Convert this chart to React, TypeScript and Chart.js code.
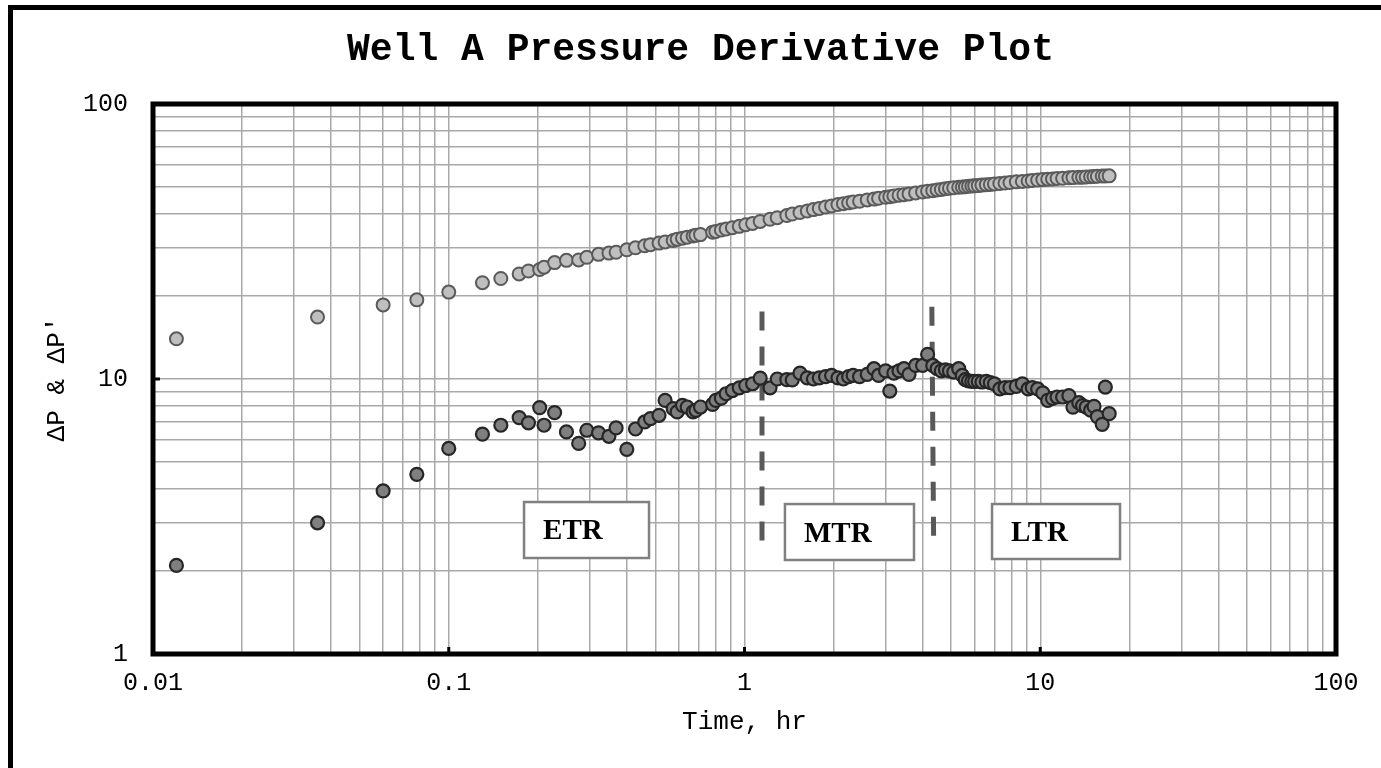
import React, { useEffect, useRef } from 'react';
import { Chart, registerables } from 'chart.js';

Chart.register(...registerables);

// ---- Data ----
const timeHr = [
  0.012, 0.036, 0.06, 0.078, 0.1, 0.13, 0.15, 0.173, 0.186, 0.203,
  0.21, 0.228, 0.25, 0.275, 0.293, 0.321, 0.348, 0.368, 0.4, 0.428,
  0.46, 0.481, 0.514, 0.539, 0.574, 0.592, 0.617, 0.64, 0.67, 0.685,
  0.71, 0.78, 0.8, 0.835, 0.867, 0.91, 0.96, 1.01, 1.065, 1.13,
  1.22, 1.29, 1.39, 1.45, 1.54, 1.63, 1.71, 1.79, 1.88, 1.97,
  2.07, 2.16, 2.25, 2.33, 2.45, 2.6, 2.74, 2.84, 3.0, 3.1,
  3.2, 3.33, 3.46, 3.6, 3.79, 4.0, 4.16, 4.33, 4.48, 4.63,
  4.78, 4.93, 5.1, 5.3, 5.45, 5.58, 5.72, 5.87, 6.0, 6.17,
  6.35, 6.57, 6.78, 7.0, 7.3, 7.6, 7.9, 8.3, 8.7, 9.1,
  9.4, 9.8, 10.2, 10.6, 11.0, 11.4, 11.9, 12.5, 12.9, 13.5,
  13.9, 14.3, 14.8, 15.2, 15.6, 16.2, 16.6, 17.1,
];

const deltaP = [
  14.0, 16.8, 18.6, 19.4, 20.7, 22.4, 23.2, 24.1, 24.7, 25.0,
  25.5, 26.5, 27.0, 27.1, 27.7, 28.4, 28.7, 28.9, 29.5, 30.0,
  30.5, 30.8, 31.2, 31.5, 31.9, 32.2, 32.5, 32.8, 33.1, 33.3,
  33.5, 34.2, 34.4, 34.8, 35.1, 35.5, 35.9, 36.4, 36.8, 37.4,
  38.1, 38.6, 39.3, 39.8, 40.3, 40.8, 41.3, 41.7, 42.2, 42.6,
  43.1, 43.4, 43.7, 44.0, 44.3, 44.8, 45.1, 45.4, 45.8, 46.0,
  46.3, 46.6, 46.8, 47.1, 47.5, 47.9, 48.2, 48.4, 48.7, 48.9,
  49.2, 49.4, 49.6, 49.8, 49.9, 50.0, 50.2, 50.3, 50.4, 50.5,
  50.7, 50.9, 51.0, 51.2, 51.4, 51.6, 51.8, 52.1, 52.3, 52.5,
  52.7, 52.9, 53.1, 53.3, 53.4, 53.6, 53.7, 53.9, 54.0, 54.1,
  54.2, 54.3, 54.4, 54.5, 54.6, 54.7, 54.7, 54.8,
];

const deltaPDerivative = [
  2.1, 3.0, 3.92, 4.5, 5.59, 6.3, 6.79, 7.24, 6.93, 7.87,
  6.79, 7.55, 6.42, 5.83, 6.51, 6.37, 6.19, 6.64, 5.55, 6.58,
  6.98, 7.18, 7.38, 8.36, 7.8, 7.59, 8.02, 7.91, 7.59, 7.69,
  7.91, 8.09, 8.36, 8.52, 8.84, 9.08, 9.29, 9.47, 9.61, 10.07,
  9.29, 10.0, 9.95, 9.92, 10.5, 10.1, 10.0, 10.1, 10.2, 10.3,
  10.1, 10.0, 10.2, 10.3, 10.2, 10.4, 10.9, 10.3, 10.7, 9.04,
  10.5, 10.7, 10.9, 10.4, 11.2, 11.2, 12.3, 11.2, 10.9, 10.7,
  10.8, 10.7, 10.6, 10.9, 10.3, 9.94, 9.85, 9.8, 9.8, 9.8,
  9.75, 9.8, 9.7, 9.6, 9.2, 9.3, 9.3, 9.4, 9.6, 9.2,
  9.3, 9.2, 8.9, 8.36, 8.5, 8.6, 8.6, 8.7, 7.9, 8.2,
  8.0, 7.9, 7.7, 7.95, 7.3, 6.84, 9.35, 7.48,
];

// Axis ticks
const xMajorTicks = [0.01, 0.1, 1, 10, 100];
const xTickLabels = ['0.01', '0.1', '1', '10', '100'];
const yMajorTicks = [1, 10, 100];
const yTickLabels = ['1', '10', '100'];
const decadeMultipliers = [1, 2, 3, 4, 5, 6, 7, 8, 9];

const chartTitle = 'Well A Pressure Derivative Plot';

// Flow-regime boundaries (dashed lines): [time, value] top and bottom
const boundaryTopTime = [1.146, 4.3];
const boundaryTopValue = [17.6, 18.3];
const boundaryBottomTime = [1.146, 4.36];
const boundaryBottomValue = [2.45, 2.56];

// Region label boxes
const regionLabels = ['ETR', 'MTR', 'LTR'];
const regionTimeStart = [0.1797, 1.37, 6.87];
const regionTimeEnd = [0.4755, 3.742, 18.61];
const regionValueTop = [3.57, 3.51, 3.51];
const regionValueBottom = [2.234, 2.197, 2.215];

const MONO = "'Liberation Mono', 'Courier New', monospace";
const SERIF = "'Liberation Serif', 'Times New Roman', serif";

function gridTicks(majors: number[]) {
  const out: number[] = [];
  for (let i = 0; i < majors.length - 1; i++) {
    for (const m of decadeMultipliers) out.push(majors[i] * m);
  }
  out.push(majors[majors.length - 1]);
  return out;
}

const overlayPlugin = {
  id: 'wellOverlay',
  beforeDatasetsDraw(chart: any) {
    const { ctx } = chart;
    const xs = chart.scales.x;
    const ys = chart.scales.y;
    ctx.save();
    // dashed boundaries
    ctx.strokeStyle = '#595959';
    ctx.lineWidth = 5;
    ctx.setLineDash([19, 16]);
    for (let i = 0; i < boundaryTopTime.length; i++) {
      ctx.beginPath();
      ctx.moveTo(xs.getPixelForValue(boundaryTopTime[i]), ys.getPixelForValue(boundaryTopValue[i]));
      ctx.lineTo(xs.getPixelForValue(boundaryBottomTime[i]), ys.getPixelForValue(boundaryBottomValue[i]));
      ctx.stroke();
    }
    ctx.setLineDash([]);
    // label boxes
    for (let i = 0; i < regionLabels.length; i++) {
      const x0 = xs.getPixelForValue(regionTimeStart[i]);
      const x1 = xs.getPixelForValue(regionTimeEnd[i]);
      const y0 = ys.getPixelForValue(regionValueTop[i]);
      const y1 = ys.getPixelForValue(regionValueBottom[i]);
      ctx.fillStyle = '#ffffff';
      ctx.fillRect(x0, y0, x1 - x0, y1 - y0);
      ctx.strokeStyle = '#808080';
      ctx.lineWidth = 2.5;
      ctx.strokeRect(x0, y0, x1 - x0, y1 - y0);
      ctx.fillStyle = '#000000';
      ctx.font = `bold 29px ${SERIF}`;
      ctx.textAlign = 'left';
      ctx.textBaseline = 'middle';
      ctx.fillText(regionLabels[i], x0 + 19, (y0 + y1) / 2 + 2);
    }
    ctx.restore();
  },
  afterDatasetsDraw(chart: any) {
    const { ctx, chartArea } = chart;
    const xs = chart.scales.x;
    const ys = chart.scales.y;
    ctx.save();
    ctx.strokeStyle = '#000000';
    ctx.lineWidth = 3;
    // inner major tick marks
    for (let i = 1; i < xMajorTicks.length - 1; i++) {
      const px = xs.getPixelForValue(xMajorTicks[i]);
      ctx.beginPath();
      ctx.moveTo(px, chartArea.bottom);
      ctx.lineTo(px, chartArea.bottom - 7);
      ctx.stroke();
    }
    for (let i = 1; i < yMajorTicks.length - 1; i++) {
      const py = ys.getPixelForValue(yMajorTicks[i]);
      ctx.beginPath();
      ctx.moveTo(chartArea.left, py);
      ctx.lineTo(chartArea.left + 7, py);
      ctx.stroke();
    }
    // plot border
    ctx.lineWidth = 5;
    ctx.strokeRect(chartArea.left, chartArea.top, chartArea.right - chartArea.left, chartArea.bottom - chartArea.top);
    // chart title
    ctx.fillStyle = '#000000';
    ctx.font = `bold 38px ${MONO}`;
    ctx.textAlign = 'center';
    ctx.textBaseline = 'middle';
    ctx.fillText(chartTitle, chart.width / 2 + 10, 50);
    ctx.restore();
  },
};

export default function App() {
  const canvasRef = useRef<HTMLCanvasElement | null>(null);

  useEffect(() => {
    const canvas = canvasRef.current;
    if (!canvas) return;
    const xGrid = gridTicks(xMajorTicks);
    const yGrid = gridTicks(yMajorTicks);

    const chart = new Chart(canvas, {
      type: 'scatter',
      data: {
        datasets: [
          {
            label: 'ΔP',
            data: timeHr.map((t, i) => ({ x: t, y: deltaP[i] })),
            backgroundColor: '#bfbfbf',
            borderColor: '#5a5a5a',
            borderWidth: 2,
            pointRadius: 6.5,
            showLine: false,
          },
          {
            label: "ΔP'",
            data: timeHr.map((t, i) => ({ x: t, y: deltaPDerivative[i] })),
            backgroundColor: '#7f7f7f',
            borderColor: '#262626',
            borderWidth: 2.2,
            pointRadius: 6.5,
            showLine: false,
          },
        ],
      },
      options: {
        animation: false,
        responsive: false,
        devicePixelRatio: 1,
        layout: { padding: { left: 0, right: 45, top: 104, bottom: 0 } },
        plugins: {
          legend: { display: false },
          tooltip: { enabled: false },
          title: { display: false },
        },
        scales: {
          x: {
            type: 'logarithmic',
            min: 0.01,
            max: 100,
            afterBuildTicks: (scale: any) => {
              scale.ticks = xGrid.map((v) => ({ value: v }));
            },
            afterFit: (scale: any) => {
              scale.height = 114;
            },
            grid: { color: '#a9a9a9', lineWidth: 1.5, drawTicks: false },
            border: { display: false },
            ticks: {
              autoSkip: false,
              maxRotation: 0,
              minRotation: 0,
              padding: 14,
              color: '#000000',
              font: { family: MONO, size: 25 },
              callback: (value: any) => {
                const idx = xMajorTicks.indexOf(Number(value));
                return idx >= 0 ? xTickLabels[idx] : '';
              },
            },
            title: {
              display: true,
              text: 'Time, hr',
              color: '#000000',
              font: { family: MONO, size: 26, lineHeight: 1.2 },
              padding: { top: 0, bottom: 30 },
            },
          },
          y: {
            type: 'logarithmic',
            min: 1,
            max: 100,
            afterBuildTicks: (scale: any) => {
              scale.ticks = yGrid.map((v) => ({ value: v }));
            },
            afterFit: (scale: any) => {
              scale.width = 153;
            },
            grid: { color: '#a9a9a9', lineWidth: 1.5, drawTicks: false },
            border: { display: false },
            ticks: {
              autoSkip: false,
              padding: 25,
              color: '#000000',
              font: { family: MONO, size: 25 },
              callback: (value: any) => {
                const idx = yMajorTicks.indexOf(Number(value));
                return idx >= 0 ? yTickLabels[idx] : '';
              },
            },
            title: {
              display: true,
              text: "ΔP & ΔP'",
              color: '#000000',
              font: { family: MONO, size: 26, lineHeight: 1.2 },
              padding: { top: 42, bottom: 0 },
            },
          },
        },
      },
      plugins: [overlayPlugin],
    } as any);

    return () => {
      chart.destroy();
    };
  }, []);

  return (
    <div
      style={{
        position: 'fixed',
        left: 0,
        top: 0,
        width: 1381,
        height: 768,
        overflow: 'hidden',
        background: '#ffffff',
      }}
    >
      <canvas
        ref={canvasRef}
        width={1381}
        height={768}
        style={{ position: 'absolute', left: 0, top: 0, width: 1381, height: 768, display: 'block' }}
      />
      <div
        style={{
          position: 'absolute',
          left: 8,
          top: 5,
          width: 1420,
          height: 820,
          border: '5px solid #000000',
          boxSizing: 'border-box',
          pointerEvents: 'none',
        }}
      />
    </div>
  );
}
